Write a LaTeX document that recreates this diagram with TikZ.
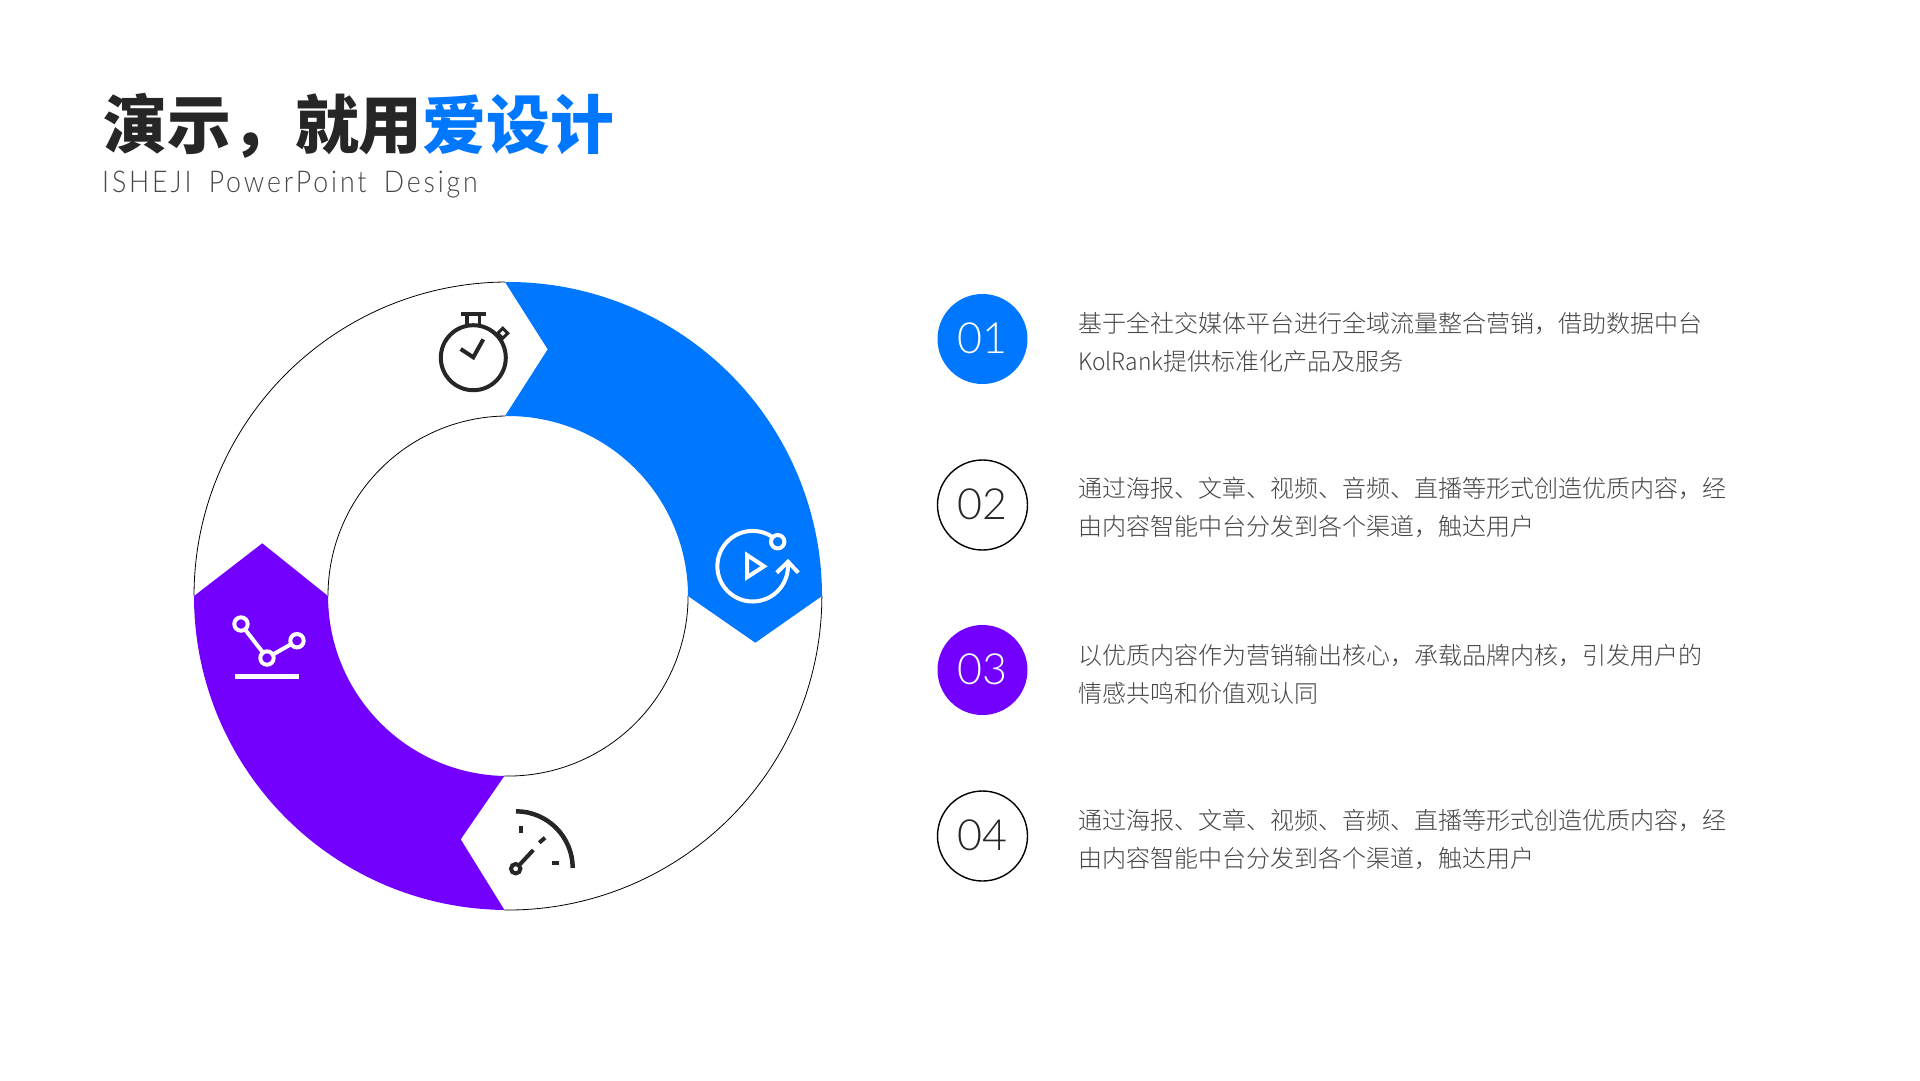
\documentclass[tikz,border=0pt]{standalone}
\usepackage{fontspec}
\newfontfamily\cjk{Noto Sans CJK SC Light}
\newfontfamily\cjklatin[FakeStretch=0.95]{Noto Sans CJK SC Light}
\newfontfamily\cjkbold{Noto Sans CJK SC Black}
\newfontfamily\subf[LetterSpace=9.6,FakeStretch=0.89,WordSpace=1.7]{Lato Light}
\newfontfamily\numf{Lato Light}
\definecolor{brandblue}{RGB}{0,119,255}
\definecolor{brandpurple}{RGB}{115,0,255}
\definecolor{ink}{RGB}{38,38,38}
\definecolor{bodygray}{RGB}{70,70,70}
\tikzset{
  ringline/.style={draw=black,line width=0.8pt},
  darkicon/.style={draw=ink,line width=4pt},
  lighticon/.style={draw=white,line width=4pt},
  badge/.style={circle,minimum size=90pt,inner sep=0pt,font=\numf\fontsize{43}{43}\selectfont},
  body/.style={anchor=base west,inner sep=0pt,text=bodygray,font=\cjk\fontsize{24}{24}\selectfont},
}
\begin{document}
\begin{tikzpicture}[x=1pt,y=1pt]
\useasboundingbox (0,0) rectangle (1920,-1080);
\fill[white] (0,0) rectangle (1920,-1080);
% title
\node[anchor=base west,inner sep=0pt,text=ink,font=\cjkbold\fontsize{63.8}{64}\selectfont] (title) at (103.5,-148) {演示，就用\textcolor{brandblue}{爱设计}};
\node[anchor=base west,inner sep=0pt,text=ink!85,font=\subf\fontsize{30}{30}\selectfont] (subtitle) at (102,-192) {ISHEJI PowerPoint Design};
% ring outlines, only where the ring is white
\draw[ringline] (505,-282) arc[start angle=90.55,end angle=180,radius=314];
\draw[ringline] (504.3,-910) arc[start angle=269.35,end angle=360,radius=314];
\draw[ringline] (505,-416) arc[start angle=90.95,end angle=180,radius=180];
\draw[ringline] (504.3,-776) arc[start angle=268.8,end angle=360,radius=180];
% white chevrons over the outline ends
\fill[white] (194,-596) -- (262.3,-543.3) -- (328,-596) -- cycle;
\fill[white] (688,-596.7) -- (755.3,-642.7) -- (822,-596.7) -- cycle;
% blue segment
\fill[brandblue] (505,-282) arc[start angle=90.55,end angle=0,radius=314] -- (755.3,-642.7) -- (688,-596) arc[start angle=0,end angle=90.95,radius=180] -- (547.7,-349.3) -- cycle;
% purple segment
\fill[brandpurple] (194,-596) arc[start angle=180,end angle=269.35,radius=314] -- (460.7,-839.3) -- (504.3,-776) arc[start angle=268.8,end angle=180,radius=180] -- (262.3,-543.3) -- cycle;
% stopwatch icon
\draw[darkicon] (473.3,-357.7) circle[radius=32.5];
\draw[darkicon] (461,-314) -- (486,-314);
\draw[darkicon,line width=3.5pt] (467,-314) -- (467,-326) (479.5,-314) -- (479.5,-326);
\draw[darkicon,line width=3pt] (502.7,-328.3) -- (507.7,-333.3) -- (502.7,-338.3) -- (497.7,-333.3) -- cycle;
\draw[darkicon] (460.7,-349) -- (473.3,-357.3) -- (483.3,-339.3);
% replay icon
\draw[lighticon] (777.7,-541.7) circle[radius=6.7];
\draw[lighticon] (772.5,-537) arc[start angle=55.8,end angle=365,radius=35.3];
\draw[lighticon] (776.7,-572.7) -- (788,-561.7) -- (798.3,-572.7);
\draw[lighticon] (747,-555) -- (747,-577.3) -- (764,-566.3) -- cycle;
% graph icon
\draw[lighticon] (241,-624) circle[radius=6.7];
\draw[lighticon] (267,-658) circle[radius=6.7];
\draw[lighticon] (297,-640.7) circle[radius=6.7];
\draw[lighticon] (245,-629.4) -- (263,-652.6);
\draw[lighticon] (272.8,-654.6) -- (291.2,-644.1);
\draw[lighticon,line width=4.7pt] (235,-676.3) -- (299,-676.3);
% gauge icon
\draw[darkicon,line width=4.5pt] (516,-811.3) arc[start angle=90,end angle=0,radius=56.7];
\draw[darkicon] (520.7,-826) -- (520.7,-832.7);
\draw[darkicon] (539.3,-842.7) -- (545,-837.7);
\draw[darkicon] (551.7,-863) -- (558.7,-863);
\draw[darkicon] (515.7,-868.7) circle[radius=4.7];
\draw[darkicon] (520,-864.3) -- (533.3,-850);
% badges
\node[badge,fill=brandblue,text=white] (b1) at (982.5,-339) {\raisebox{1.2pt}{01}};
\node[badge,draw=black,line width=1.4pt,text=ink] (b2) at (982.5,-505) {\raisebox{1.2pt}{02}};
\node[badge,fill=brandpurple,text=white] (b3) at (982.5,-670) {\raisebox{1.2pt}{03}};
\node[badge,draw=black,line width=1.4pt,text=ink] (b4) at (982.5,-836) {\raisebox{1.2pt}{04}};
% texts
\node[body] (t1a) at (1078,-332) {基于全社交媒体平台进行全域流量整合营销，借助数据中台};
\node[body] (t1b) at (1078,-370) {{\cjklatin KolRank}提供标准化产品及服务};
\node[body] (t2a) at (1078,-497.5) {通过海报、文章、视频、音频、直播等形式创造优质内容，经};
\node[body] (t2b) at (1078,-535.5) {由内容智能中台分发到各个渠道，触达用户};
\node[body] (t3a) at (1078,-664) {以优质内容作为营销输出核心，承载品牌内核，引发用户的};
\node[body] (t3b) at (1078,-702) {情感共鸣和价值观认同};
\node[body] (t4a) at (1078,-829.5) {通过海报、文章、视频、音频、直播等形式创造优质内容，经};
\node[body] (t4b) at (1078,-867.5) {由内容智能中台分发到各个渠道，触达用户};
\end{tikzpicture}
\end{document}
